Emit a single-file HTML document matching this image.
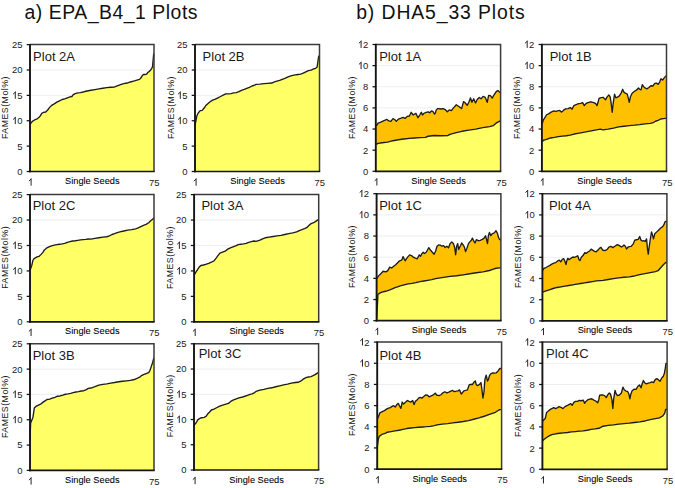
<!DOCTYPE html>
<html><head><meta charset="utf-8"><style>
html,body{margin:0;padding:0;background:#fff;}
body{width:675px;height:488px;overflow:hidden;}
svg{display:block;}
text{font-family:"Liberation Sans",sans-serif;fill:#1a1a1a;}
.tk{font-size:9.9px;}
.xl{font-size:9.8px;fill:#000;stroke:#000;stroke-width:0.08px;}
.yl{font-size:8.8px;fill:#111;}
.pt{font-size:13px;}
.hd{font-size:19.4px;fill:#111;}
</style></head><body>
<svg width="675" height="488" viewBox="0 0 675 488">
<rect width="675" height="488" fill="#fff"/>
<text x="24.5" y="18.9" class="hd" textLength="173" lengthAdjust="spacing">a) EPA_B4_1 Plots</text>
<text x="356.2" y="18.9" class="hd" textLength="168.5" lengthAdjust="spacing">b) DHA5_33 Plots</text>
<line x1="30.00" y1="146.12" x2="154.00" y2="146.12" stroke="#efefef" stroke-width="1"/>
<line x1="30.00" y1="120.74" x2="154.00" y2="120.74" stroke="#efefef" stroke-width="1"/>
<line x1="30.00" y1="95.36" x2="154.00" y2="95.36" stroke="#efefef" stroke-width="1"/>
<line x1="30.00" y1="69.98" x2="154.00" y2="69.98" stroke="#efefef" stroke-width="1"/>
<polygon points="30.00,124.56 31.28,122.59 33.25,120.75 35.21,119.57 37.18,118.79 39.15,117.21 40.46,115.64 41.77,113.28 43.74,112.23 45.70,111.97 47.67,110.00 49.64,107.38 51.61,105.41 54.23,103.84 56.85,102.13 59.48,100.82 62.10,99.51 64.72,98.85 67.34,97.80 69.97,96.89 71.93,96.49 73.25,94.66 75.21,93.61 77.84,92.95 80.46,92.56 83.08,92.03 85.70,91.25 88.33,90.72 91.00,90.25 94.93,89.59 98.87,88.93 102.80,88.28 106.74,87.62 110.67,87.23 114.61,86.97 117.23,85.92 120.51,84.61 123.79,83.69 127.07,83.03 130.34,81.98 133.62,81.07 136.90,80.15 139.52,79.36 140.84,78.05 142.15,75.82 143.46,74.51 145.03,74.51 146.74,74.11 147.66,72.54 148.70,71.89 150.28,70.57 151.59,68.61 152.51,66.77 153.69,53.92 154.00,53.92 154.00,171.50 30.00,171.50" fill="#FFFF66"/>
<polyline points="30.00,124.56 31.28,122.59 33.25,120.75 35.21,119.57 37.18,118.79 39.15,117.21 40.46,115.64 41.77,113.28 43.74,112.23 45.70,111.97 47.67,110.00 49.64,107.38 51.61,105.41 54.23,103.84 56.85,102.13 59.48,100.82 62.10,99.51 64.72,98.85 67.34,97.80 69.97,96.89 71.93,96.49 73.25,94.66 75.21,93.61 77.84,92.95 80.46,92.56 83.08,92.03 85.70,91.25 88.33,90.72 91.00,90.25 94.93,89.59 98.87,88.93 102.80,88.28 106.74,87.62 110.67,87.23 114.61,86.97 117.23,85.92 120.51,84.61 123.79,83.69 127.07,83.03 130.34,81.98 133.62,81.07 136.90,80.15 139.52,79.36 140.84,78.05 142.15,75.82 143.46,74.51 145.03,74.51 146.74,74.11 147.66,72.54 148.70,71.89 150.28,70.57 151.59,68.61 152.51,66.77 153.69,53.92 154.00,53.92" fill="none" stroke="#1c1c1c" stroke-width="1.35" stroke-linejoin="round"/>
<polyline points="30.00,44.60 154.00,44.60 154.00,171.50" fill="none" stroke="#3a3a3a" stroke-width="1.5"/>
<line x1="30.00" y1="43.90" x2="30.00" y2="172.30" stroke="#151515" stroke-width="1.9"/>
<line x1="29.10" y1="171.50" x2="154.70" y2="171.50" stroke="#151515" stroke-width="1.7"/>
<line x1="26.70" y1="171.50" x2="30.00" y2="171.50" stroke="#111" stroke-width="1.25"/>
<text transform="translate(17.14,174.90) scale(0.955,1)" class="tk">0</text>
<line x1="26.70" y1="146.12" x2="30.00" y2="146.12" stroke="#111" stroke-width="1.25"/>
<text transform="translate(17.14,149.52) scale(0.955,1)" class="tk">5</text>
<line x1="26.70" y1="120.74" x2="30.00" y2="120.74" stroke="#111" stroke-width="1.25"/>
<path d="M15.29,117.05 L15.29,124.14 M15.59,117.25 L13.09,119.55" stroke="#262626" stroke-width="1.0" fill="none"/>
<text transform="translate(17.14,124.14) scale(0.955,1)" class="tk">0</text>
<line x1="26.70" y1="95.36" x2="30.00" y2="95.36" stroke="#111" stroke-width="1.25"/>
<path d="M15.29,91.67 L15.29,98.76 M15.59,91.87 L13.09,94.17" stroke="#262626" stroke-width="1.0" fill="none"/>
<text transform="translate(17.14,98.76) scale(0.955,1)" class="tk">5</text>
<line x1="26.70" y1="69.98" x2="30.00" y2="69.98" stroke="#111" stroke-width="1.25"/>
<text transform="translate(11.89,73.38) scale(0.955,1)" class="tk">2</text>
<text transform="translate(17.14,73.38) scale(0.955,1)" class="tk">0</text>
<line x1="26.70" y1="44.60" x2="30.00" y2="44.60" stroke="#111" stroke-width="1.25"/>
<text transform="translate(11.89,48.00) scale(0.955,1)" class="tk">2</text>
<text transform="translate(17.14,48.00) scale(0.955,1)" class="tk">5</text>
<path d="M31.08,178.61 L31.08,185.70 M31.38,178.81 L28.88,181.11" stroke="#262626" stroke-width="1.0" fill="none"/>
<text transform="translate(149.04,185.70) scale(0.955,1)" class="tk">7</text>
<text transform="translate(154.30,185.70) scale(0.955,1)" class="tk">5</text>
<text x="92.30" y="184.00" class="xl" text-anchor="middle" textLength="54.5" lengthAdjust="spacingAndGlyphs">Single Seeds</text>
<text transform="translate(8.20,139.00) rotate(-90)" class="yl" textLength="62.5" lengthAdjust="spacing">FAMES(Mol%)</text>
<text x="33.10" y="60.80" class="pt">Plot 2A</text>
<line x1="195.00" y1="146.12" x2="319.50" y2="146.12" stroke="#efefef" stroke-width="1"/>
<line x1="195.00" y1="120.74" x2="319.50" y2="120.74" stroke="#efefef" stroke-width="1"/>
<line x1="195.00" y1="95.36" x2="319.50" y2="95.36" stroke="#efefef" stroke-width="1"/>
<line x1="195.00" y1="69.98" x2="319.50" y2="69.98" stroke="#efefef" stroke-width="1"/>
<polygon points="195.00,125.74 196.80,116.03 198.25,113.02 200.21,110.66 202.18,110.39 204.15,108.03 206.11,105.15 208.08,103.44 210.05,101.74 212.67,100.16 215.30,99.11 217.92,97.80 220.54,96.49 223.16,95.18 225.79,93.87 228.41,93.87 231.03,93.61 233.66,92.95 236.28,92.56 238.90,91.64 241.52,90.33 244.15,89.41 246.77,88.36 249.39,87.31 252.02,86.00 254.64,85.08 256.00,84.34 259.93,84.08 263.87,83.69 267.80,83.30 271.74,83.03 274.36,81.98 276.98,81.07 279.61,80.41 282.23,79.36 284.85,78.44 287.48,77.13 290.10,76.21 292.72,75.43 295.34,74.90 297.97,74.51 300.59,74.11 303.21,73.20 305.84,71.89 308.46,70.57 311.08,70.18 313.70,68.87 315.67,68.34 317.11,67.03 318.69,56.15 319.50,56.15 319.50,171.50 195.00,171.50" fill="#FFFF66"/>
<polyline points="195.00,125.74 196.80,116.03 198.25,113.02 200.21,110.66 202.18,110.39 204.15,108.03 206.11,105.15 208.08,103.44 210.05,101.74 212.67,100.16 215.30,99.11 217.92,97.80 220.54,96.49 223.16,95.18 225.79,93.87 228.41,93.87 231.03,93.61 233.66,92.95 236.28,92.56 238.90,91.64 241.52,90.33 244.15,89.41 246.77,88.36 249.39,87.31 252.02,86.00 254.64,85.08 256.00,84.34 259.93,84.08 263.87,83.69 267.80,83.30 271.74,83.03 274.36,81.98 276.98,81.07 279.61,80.41 282.23,79.36 284.85,78.44 287.48,77.13 290.10,76.21 292.72,75.43 295.34,74.90 297.97,74.51 300.59,74.11 303.21,73.20 305.84,71.89 308.46,70.57 311.08,70.18 313.70,68.87 315.67,68.34 317.11,67.03 318.69,56.15 319.50,56.15" fill="none" stroke="#1c1c1c" stroke-width="1.35" stroke-linejoin="round"/>
<polyline points="195.00,44.60 319.50,44.60 319.50,171.50" fill="none" stroke="#3a3a3a" stroke-width="1.5"/>
<line x1="195.00" y1="43.90" x2="195.00" y2="172.30" stroke="#151515" stroke-width="1.9"/>
<line x1="194.10" y1="171.50" x2="320.20" y2="171.50" stroke="#151515" stroke-width="1.7"/>
<line x1="191.70" y1="171.50" x2="195.00" y2="171.50" stroke="#111" stroke-width="1.25"/>
<text transform="translate(182.14,174.90) scale(0.955,1)" class="tk">0</text>
<line x1="191.70" y1="146.12" x2="195.00" y2="146.12" stroke="#111" stroke-width="1.25"/>
<text transform="translate(182.14,149.52) scale(0.955,1)" class="tk">5</text>
<line x1="191.70" y1="120.74" x2="195.00" y2="120.74" stroke="#111" stroke-width="1.25"/>
<path d="M180.29,117.05 L180.29,124.14 M180.59,117.25 L178.09,119.55" stroke="#262626" stroke-width="1.0" fill="none"/>
<text transform="translate(182.14,124.14) scale(0.955,1)" class="tk">0</text>
<line x1="191.70" y1="95.36" x2="195.00" y2="95.36" stroke="#111" stroke-width="1.25"/>
<path d="M180.29,91.67 L180.29,98.76 M180.59,91.87 L178.09,94.17" stroke="#262626" stroke-width="1.0" fill="none"/>
<text transform="translate(182.14,98.76) scale(0.955,1)" class="tk">5</text>
<line x1="191.70" y1="69.98" x2="195.00" y2="69.98" stroke="#111" stroke-width="1.25"/>
<text transform="translate(176.89,73.38) scale(0.955,1)" class="tk">2</text>
<text transform="translate(182.14,73.38) scale(0.955,1)" class="tk">0</text>
<line x1="191.70" y1="44.60" x2="195.00" y2="44.60" stroke="#111" stroke-width="1.25"/>
<text transform="translate(176.89,48.00) scale(0.955,1)" class="tk">2</text>
<text transform="translate(182.14,48.00) scale(0.955,1)" class="tk">5</text>
<path d="M196.08,178.61 L196.08,185.70 M196.38,178.81 L193.88,181.11" stroke="#262626" stroke-width="1.0" fill="none"/>
<text transform="translate(314.54,185.70) scale(0.955,1)" class="tk">7</text>
<text transform="translate(319.80,185.70) scale(0.955,1)" class="tk">5</text>
<text x="257.55" y="184.00" class="xl" text-anchor="middle" textLength="54.5" lengthAdjust="spacingAndGlyphs">Single Seeds</text>
<text transform="translate(173.50,139.00) rotate(-90)" class="yl" textLength="62.5" lengthAdjust="spacing">FAMES(Mol%)</text>
<text x="202.60" y="61.00" class="pt">Plot 2B</text>
<line x1="30.00" y1="296.36" x2="154.00" y2="296.36" stroke="#efefef" stroke-width="1"/>
<line x1="30.00" y1="270.92" x2="154.00" y2="270.92" stroke="#efefef" stroke-width="1"/>
<line x1="30.00" y1="245.48" x2="154.00" y2="245.48" stroke="#efefef" stroke-width="1"/>
<line x1="30.00" y1="220.04" x2="154.00" y2="220.04" stroke="#efefef" stroke-width="1"/>
<polygon points="30.00,270.49 31.80,265.38 32.85,260.52 34.03,258.56 37.05,256.85 38.89,256.46 40.85,254.62 43.08,252.13 44.39,249.90 46.36,248.20 48.98,246.89 51.61,245.97 54.23,245.18 56.85,244.66 59.48,244.26 62.10,243.87 64.72,243.34 67.34,242.30 69.97,241.64 72.59,240.98 75.21,240.72 77.84,240.33 80.46,239.93 83.08,239.67 85.70,239.41 88.33,239.02 91.00,239.10 94.93,238.44 98.87,237.79 102.80,237.13 106.74,236.74 109.36,235.82 111.98,234.51 114.61,233.59 117.23,232.54 119.85,231.89 123.79,230.97 127.72,230.18 131.66,229.66 135.59,228.87 138.21,227.95 140.84,226.64 143.46,225.33 146.08,224.41 148.70,222.70 150.67,220.74 152.64,219.16 153.69,218.11 154.00,218.11 154.00,321.80 30.00,321.80" fill="#FFFF66"/>
<polyline points="30.00,270.49 31.80,265.38 32.85,260.52 34.03,258.56 37.05,256.85 38.89,256.46 40.85,254.62 43.08,252.13 44.39,249.90 46.36,248.20 48.98,246.89 51.61,245.97 54.23,245.18 56.85,244.66 59.48,244.26 62.10,243.87 64.72,243.34 67.34,242.30 69.97,241.64 72.59,240.98 75.21,240.72 77.84,240.33 80.46,239.93 83.08,239.67 85.70,239.41 88.33,239.02 91.00,239.10 94.93,238.44 98.87,237.79 102.80,237.13 106.74,236.74 109.36,235.82 111.98,234.51 114.61,233.59 117.23,232.54 119.85,231.89 123.79,230.97 127.72,230.18 131.66,229.66 135.59,228.87 138.21,227.95 140.84,226.64 143.46,225.33 146.08,224.41 148.70,222.70 150.67,220.74 152.64,219.16 153.69,218.11 154.00,218.11" fill="none" stroke="#1c1c1c" stroke-width="1.35" stroke-linejoin="round"/>
<polyline points="30.00,194.60 154.00,194.60 154.00,321.80" fill="none" stroke="#3a3a3a" stroke-width="1.5"/>
<line x1="30.00" y1="193.90" x2="30.00" y2="322.60" stroke="#151515" stroke-width="1.9"/>
<line x1="29.10" y1="321.80" x2="154.70" y2="321.80" stroke="#151515" stroke-width="1.7"/>
<line x1="26.70" y1="321.80" x2="30.00" y2="321.80" stroke="#111" stroke-width="1.25"/>
<text transform="translate(17.14,325.20) scale(0.955,1)" class="tk">0</text>
<line x1="26.70" y1="296.36" x2="30.00" y2="296.36" stroke="#111" stroke-width="1.25"/>
<text transform="translate(17.14,299.76) scale(0.955,1)" class="tk">5</text>
<line x1="26.70" y1="270.92" x2="30.00" y2="270.92" stroke="#111" stroke-width="1.25"/>
<path d="M15.29,267.23 L15.29,274.32 M15.59,267.43 L13.09,269.73" stroke="#262626" stroke-width="1.0" fill="none"/>
<text transform="translate(17.14,274.32) scale(0.955,1)" class="tk">0</text>
<line x1="26.70" y1="245.48" x2="30.00" y2="245.48" stroke="#111" stroke-width="1.25"/>
<path d="M15.29,241.79 L15.29,248.88 M15.59,241.99 L13.09,244.29" stroke="#262626" stroke-width="1.0" fill="none"/>
<text transform="translate(17.14,248.88) scale(0.955,1)" class="tk">5</text>
<line x1="26.70" y1="220.04" x2="30.00" y2="220.04" stroke="#111" stroke-width="1.25"/>
<text transform="translate(11.89,223.44) scale(0.955,1)" class="tk">2</text>
<text transform="translate(17.14,223.44) scale(0.955,1)" class="tk">0</text>
<line x1="26.70" y1="194.60" x2="30.00" y2="194.60" stroke="#111" stroke-width="1.25"/>
<text transform="translate(11.89,198.00) scale(0.955,1)" class="tk">2</text>
<text transform="translate(17.14,198.00) scale(0.955,1)" class="tk">5</text>
<path d="M31.08,328.91 L31.08,336.00 M31.38,329.11 L28.88,331.41" stroke="#262626" stroke-width="1.0" fill="none"/>
<text transform="translate(149.04,336.00) scale(0.955,1)" class="tk">7</text>
<text transform="translate(154.30,336.00) scale(0.955,1)" class="tk">5</text>
<text x="92.30" y="334.30" class="xl" text-anchor="middle" textLength="54.5" lengthAdjust="spacingAndGlyphs">Single Seeds</text>
<text transform="translate(8.20,288.80) rotate(-90)" class="yl" textLength="62.5" lengthAdjust="spacing">FAMES(Mol%)</text>
<text x="32.70" y="210.10" class="pt">Plot 2C</text>
<line x1="194.10" y1="296.36" x2="318.70" y2="296.36" stroke="#efefef" stroke-width="1"/>
<line x1="194.10" y1="270.92" x2="318.70" y2="270.92" stroke="#efefef" stroke-width="1"/>
<line x1="194.10" y1="245.48" x2="318.70" y2="245.48" stroke="#efefef" stroke-width="1"/>
<line x1="194.10" y1="220.04" x2="318.70" y2="220.04" stroke="#efefef" stroke-width="1"/>
<polygon points="194.10,275.21 195.89,272.20 199.03,267.34 200.87,265.51 203.49,264.98 206.38,264.20 208.74,263.28 211.36,262.23 213.98,260.92 215.95,258.30 217.92,255.67 219.89,253.05 222.51,252.13 225.13,251.21 227.75,249.11 230.38,247.80 233.00,246.89 235.62,245.97 238.25,244.66 240.87,244.26 243.49,243.87 246.11,243.34 248.74,242.30 251.36,241.64 253.98,240.98 256.00,241.46 259.93,240.15 262.56,238.84 265.18,237.79 269.11,237.13 273.05,236.48 276.98,235.82 280.92,235.43 284.85,234.51 288.79,233.59 292.72,232.80 296.66,231.89 299.28,230.57 301.90,229.66 304.52,228.61 307.15,227.30 309.11,225.33 311.08,223.62 313.70,222.70 315.67,221.39 318.69,219.43 318.70,219.43 318.70,321.80 194.10,321.80" fill="#FFFF66"/>
<polyline points="194.10,275.21 195.89,272.20 199.03,267.34 200.87,265.51 203.49,264.98 206.38,264.20 208.74,263.28 211.36,262.23 213.98,260.92 215.95,258.30 217.92,255.67 219.89,253.05 222.51,252.13 225.13,251.21 227.75,249.11 230.38,247.80 233.00,246.89 235.62,245.97 238.25,244.66 240.87,244.26 243.49,243.87 246.11,243.34 248.74,242.30 251.36,241.64 253.98,240.98 256.00,241.46 259.93,240.15 262.56,238.84 265.18,237.79 269.11,237.13 273.05,236.48 276.98,235.82 280.92,235.43 284.85,234.51 288.79,233.59 292.72,232.80 296.66,231.89 299.28,230.57 301.90,229.66 304.52,228.61 307.15,227.30 309.11,225.33 311.08,223.62 313.70,222.70 315.67,221.39 318.69,219.43 318.70,219.43" fill="none" stroke="#1c1c1c" stroke-width="1.35" stroke-linejoin="round"/>
<polyline points="194.10,194.60 318.70,194.60 318.70,321.80" fill="none" stroke="#3a3a3a" stroke-width="1.5"/>
<line x1="194.10" y1="193.90" x2="194.10" y2="322.60" stroke="#151515" stroke-width="1.9"/>
<line x1="193.20" y1="321.80" x2="319.40" y2="321.80" stroke="#151515" stroke-width="1.7"/>
<line x1="190.80" y1="321.80" x2="194.10" y2="321.80" stroke="#111" stroke-width="1.25"/>
<text transform="translate(181.24,325.20) scale(0.955,1)" class="tk">0</text>
<line x1="190.80" y1="296.36" x2="194.10" y2="296.36" stroke="#111" stroke-width="1.25"/>
<text transform="translate(181.24,299.76) scale(0.955,1)" class="tk">5</text>
<line x1="190.80" y1="270.92" x2="194.10" y2="270.92" stroke="#111" stroke-width="1.25"/>
<path d="M179.39,267.23 L179.39,274.32 M179.69,267.43 L177.19,269.73" stroke="#262626" stroke-width="1.0" fill="none"/>
<text transform="translate(181.24,274.32) scale(0.955,1)" class="tk">0</text>
<line x1="190.80" y1="245.48" x2="194.10" y2="245.48" stroke="#111" stroke-width="1.25"/>
<path d="M179.39,241.79 L179.39,248.88 M179.69,241.99 L177.19,244.29" stroke="#262626" stroke-width="1.0" fill="none"/>
<text transform="translate(181.24,248.88) scale(0.955,1)" class="tk">5</text>
<line x1="190.80" y1="220.04" x2="194.10" y2="220.04" stroke="#111" stroke-width="1.25"/>
<text transform="translate(175.99,223.44) scale(0.955,1)" class="tk">2</text>
<text transform="translate(181.24,223.44) scale(0.955,1)" class="tk">0</text>
<line x1="190.80" y1="194.60" x2="194.10" y2="194.60" stroke="#111" stroke-width="1.25"/>
<text transform="translate(175.99,198.00) scale(0.955,1)" class="tk">2</text>
<text transform="translate(181.24,198.00) scale(0.955,1)" class="tk">5</text>
<path d="M195.18,328.91 L195.18,336.00 M195.48,329.11 L192.98,331.41" stroke="#262626" stroke-width="1.0" fill="none"/>
<text transform="translate(313.74,336.00) scale(0.955,1)" class="tk">7</text>
<text transform="translate(319.00,336.00) scale(0.955,1)" class="tk">5</text>
<text x="256.70" y="334.30" class="xl" text-anchor="middle" textLength="54.5" lengthAdjust="spacingAndGlyphs">Single Seeds</text>
<text transform="translate(172.90,289.00) rotate(-90)" class="yl" textLength="62.5" lengthAdjust="spacing">FAMES(Mol%)</text>
<text x="201.40" y="210.10" class="pt">Plot 3A</text>
<line x1="30.00" y1="445.08" x2="154.00" y2="445.08" stroke="#efefef" stroke-width="1"/>
<line x1="30.00" y1="419.76" x2="154.00" y2="419.76" stroke="#efefef" stroke-width="1"/>
<line x1="30.00" y1="394.44" x2="154.00" y2="394.44" stroke="#efefef" stroke-width="1"/>
<line x1="30.00" y1="369.12" x2="154.00" y2="369.12" stroke="#efefef" stroke-width="1"/>
<polygon points="30.00,439.51 30.62,423.11 31.67,420.49 32.98,417.21 34.30,408.03 35.87,406.46 38.49,405.15 41.11,403.84 43.08,402.13 45.05,400.82 47.02,399.51 49.64,399.11 52.26,398.20 54.89,397.28 57.51,396.23 60.13,395.97 62.75,395.18 65.38,394.26 68.00,393.87 70.62,393.34 73.25,392.56 75.87,392.03 78.49,391.64 81.11,390.98 83.74,390.72 86.36,389.67 88.33,388.36 91.00,388.03 94.93,386.72 98.87,385.15 102.80,384.36 106.74,383.84 110.67,383.05 114.61,382.52 118.54,381.74 122.48,381.21 126.41,380.82 130.34,380.43 134.28,379.51 137.56,378.20 140.18,376.89 141.49,375.57 143.46,374.66 146.08,373.61 148.70,372.56 150.02,370.33 151.33,366.39 152.64,362.46 153.69,358.52 154.00,358.52 154.00,470.40 30.00,470.40" fill="#FFFF66"/>
<polyline points="30.00,439.51 30.62,423.11 31.67,420.49 32.98,417.21 34.30,408.03 35.87,406.46 38.49,405.15 41.11,403.84 43.08,402.13 45.05,400.82 47.02,399.51 49.64,399.11 52.26,398.20 54.89,397.28 57.51,396.23 60.13,395.97 62.75,395.18 65.38,394.26 68.00,393.87 70.62,393.34 73.25,392.56 75.87,392.03 78.49,391.64 81.11,390.98 83.74,390.72 86.36,389.67 88.33,388.36 91.00,388.03 94.93,386.72 98.87,385.15 102.80,384.36 106.74,383.84 110.67,383.05 114.61,382.52 118.54,381.74 122.48,381.21 126.41,380.82 130.34,380.43 134.28,379.51 137.56,378.20 140.18,376.89 141.49,375.57 143.46,374.66 146.08,373.61 148.70,372.56 150.02,370.33 151.33,366.39 152.64,362.46 153.69,358.52 154.00,358.52" fill="none" stroke="#1c1c1c" stroke-width="1.35" stroke-linejoin="round"/>
<polyline points="30.00,343.80 154.00,343.80 154.00,470.40" fill="none" stroke="#3a3a3a" stroke-width="1.5"/>
<line x1="30.00" y1="343.10" x2="30.00" y2="471.20" stroke="#151515" stroke-width="1.9"/>
<line x1="29.10" y1="470.40" x2="154.70" y2="470.40" stroke="#151515" stroke-width="1.7"/>
<line x1="26.70" y1="470.40" x2="30.00" y2="470.40" stroke="#111" stroke-width="1.25"/>
<text transform="translate(17.14,473.80) scale(0.955,1)" class="tk">0</text>
<line x1="26.70" y1="445.08" x2="30.00" y2="445.08" stroke="#111" stroke-width="1.25"/>
<text transform="translate(17.14,448.48) scale(0.955,1)" class="tk">5</text>
<line x1="26.70" y1="419.76" x2="30.00" y2="419.76" stroke="#111" stroke-width="1.25"/>
<path d="M15.29,416.07 L15.29,423.16 M15.59,416.27 L13.09,418.57" stroke="#262626" stroke-width="1.0" fill="none"/>
<text transform="translate(17.14,423.16) scale(0.955,1)" class="tk">0</text>
<line x1="26.70" y1="394.44" x2="30.00" y2="394.44" stroke="#111" stroke-width="1.25"/>
<path d="M15.29,390.75 L15.29,397.84 M15.59,390.95 L13.09,393.25" stroke="#262626" stroke-width="1.0" fill="none"/>
<text transform="translate(17.14,397.84) scale(0.955,1)" class="tk">5</text>
<line x1="26.70" y1="369.12" x2="30.00" y2="369.12" stroke="#111" stroke-width="1.25"/>
<text transform="translate(11.89,372.52) scale(0.955,1)" class="tk">2</text>
<text transform="translate(17.14,372.52) scale(0.955,1)" class="tk">0</text>
<line x1="26.70" y1="343.80" x2="30.00" y2="343.80" stroke="#111" stroke-width="1.25"/>
<text transform="translate(11.89,347.20) scale(0.955,1)" class="tk">2</text>
<text transform="translate(17.14,347.20) scale(0.955,1)" class="tk">5</text>
<path d="M31.08,477.51 L31.08,484.60 M31.38,477.71 L28.88,480.01" stroke="#262626" stroke-width="1.0" fill="none"/>
<text transform="translate(149.04,484.60) scale(0.955,1)" class="tk">7</text>
<text transform="translate(154.30,484.60) scale(0.955,1)" class="tk">5</text>
<text x="92.30" y="482.90" class="xl" text-anchor="middle" textLength="54.5" lengthAdjust="spacingAndGlyphs">Single Seeds</text>
<text transform="translate(8.20,438.00) rotate(-90)" class="yl" textLength="62.5" lengthAdjust="spacing">FAMES(Mol%)</text>
<text x="32.70" y="360.20" class="pt">Plot 3B</text>
<line x1="194.00" y1="444.76" x2="318.60" y2="444.76" stroke="#efefef" stroke-width="1"/>
<line x1="194.00" y1="419.52" x2="318.60" y2="419.52" stroke="#efefef" stroke-width="1"/>
<line x1="194.00" y1="394.28" x2="318.60" y2="394.28" stroke="#efefef" stroke-width="1"/>
<line x1="194.00" y1="369.04" x2="318.60" y2="369.04" stroke="#efefef" stroke-width="1"/>
<polygon points="194.00,425.21 194.05,425.21 196.15,422.72 197.98,419.57 200.48,418.00 204.15,417.34 205.98,416.43 207.43,414.33 209.39,412.23 211.36,410.00 213.98,409.08 216.61,407.77 219.23,406.46 221.85,405.41 225.13,404.36 228.41,403.44 231.03,401.21 233.66,399.90 236.28,398.85 238.90,397.80 241.52,397.28 244.15,396.49 246.77,395.57 249.39,394.66 252.02,393.87 254.64,392.56 256.00,391.46 259.93,390.15 263.87,389.36 267.80,388.44 271.74,387.79 275.67,386.74 279.61,385.82 283.54,384.90 287.48,384.11 291.41,383.20 295.34,382.54 297.97,382.28 300.59,381.23 302.56,379.66 304.52,378.34 306.49,377.30 308.46,377.03 311.08,376.64 313.05,375.72 315.02,374.67 316.98,373.36 318.60,372.44 318.60,470.00 194.00,470.00" fill="#FFFF66"/>
<polyline points="194.00,425.21 194.05,425.21 196.15,422.72 197.98,419.57 200.48,418.00 204.15,417.34 205.98,416.43 207.43,414.33 209.39,412.23 211.36,410.00 213.98,409.08 216.61,407.77 219.23,406.46 221.85,405.41 225.13,404.36 228.41,403.44 231.03,401.21 233.66,399.90 236.28,398.85 238.90,397.80 241.52,397.28 244.15,396.49 246.77,395.57 249.39,394.66 252.02,393.87 254.64,392.56 256.00,391.46 259.93,390.15 263.87,389.36 267.80,388.44 271.74,387.79 275.67,386.74 279.61,385.82 283.54,384.90 287.48,384.11 291.41,383.20 295.34,382.54 297.97,382.28 300.59,381.23 302.56,379.66 304.52,378.34 306.49,377.30 308.46,377.03 311.08,376.64 313.05,375.72 315.02,374.67 316.98,373.36 318.60,372.44" fill="none" stroke="#1c1c1c" stroke-width="1.35" stroke-linejoin="round"/>
<polyline points="194.00,343.80 318.60,343.80 318.60,470.00" fill="none" stroke="#3a3a3a" stroke-width="1.5"/>
<line x1="194.00" y1="343.10" x2="194.00" y2="470.80" stroke="#151515" stroke-width="1.9"/>
<line x1="193.10" y1="470.00" x2="319.30" y2="470.00" stroke="#151515" stroke-width="1.7"/>
<line x1="190.70" y1="470.00" x2="194.00" y2="470.00" stroke="#111" stroke-width="1.25"/>
<text transform="translate(181.14,473.40) scale(0.955,1)" class="tk">0</text>
<line x1="190.70" y1="444.76" x2="194.00" y2="444.76" stroke="#111" stroke-width="1.25"/>
<text transform="translate(181.14,448.16) scale(0.955,1)" class="tk">5</text>
<line x1="190.70" y1="419.52" x2="194.00" y2="419.52" stroke="#111" stroke-width="1.25"/>
<path d="M179.29,415.83 L179.29,422.92 M179.59,416.03 L177.09,418.33" stroke="#262626" stroke-width="1.0" fill="none"/>
<text transform="translate(181.14,422.92) scale(0.955,1)" class="tk">0</text>
<line x1="190.70" y1="394.28" x2="194.00" y2="394.28" stroke="#111" stroke-width="1.25"/>
<path d="M179.29,390.59 L179.29,397.68 M179.59,390.79 L177.09,393.09" stroke="#262626" stroke-width="1.0" fill="none"/>
<text transform="translate(181.14,397.68) scale(0.955,1)" class="tk">5</text>
<line x1="190.70" y1="369.04" x2="194.00" y2="369.04" stroke="#111" stroke-width="1.25"/>
<text transform="translate(175.89,372.44) scale(0.955,1)" class="tk">2</text>
<text transform="translate(181.14,372.44) scale(0.955,1)" class="tk">0</text>
<line x1="190.70" y1="343.80" x2="194.00" y2="343.80" stroke="#111" stroke-width="1.25"/>
<text transform="translate(175.89,347.20) scale(0.955,1)" class="tk">2</text>
<text transform="translate(181.14,347.20) scale(0.955,1)" class="tk">5</text>
<path d="M195.08,477.11 L195.08,484.20 M195.38,477.31 L192.88,479.61" stroke="#262626" stroke-width="1.0" fill="none"/>
<text transform="translate(313.64,484.20) scale(0.955,1)" class="tk">7</text>
<text transform="translate(318.90,484.20) scale(0.955,1)" class="tk">5</text>
<text x="256.60" y="482.50" class="xl" text-anchor="middle" textLength="54.5" lengthAdjust="spacingAndGlyphs">Single Seeds</text>
<text transform="translate(172.70,437.20) rotate(-90)" class="yl" textLength="62.5" lengthAdjust="spacing">FAMES(Mol%)</text>
<text x="198.70" y="358.10" class="pt">Plot 3C</text>
<line x1="375.80" y1="150.17" x2="500.60" y2="150.17" stroke="#efefef" stroke-width="1"/>
<line x1="375.80" y1="129.03" x2="500.60" y2="129.03" stroke="#efefef" stroke-width="1"/>
<line x1="375.80" y1="107.90" x2="500.60" y2="107.90" stroke="#efefef" stroke-width="1"/>
<line x1="375.80" y1="86.77" x2="500.60" y2="86.77" stroke="#efefef" stroke-width="1"/>
<line x1="375.80" y1="65.63" x2="500.60" y2="65.63" stroke="#efefef" stroke-width="1"/>
<polygon points="375.80,125.43 376.70,125.43 378.06,123.14 380.76,122.19 383.47,120.84 386.85,119.48 388.88,120.84 390.91,121.38 392.93,118.67 394.96,119.75 396.32,121.38 398.34,119.08 401.05,118.13 403.08,117.32 405.11,118.40 407.14,116.37 409.43,115.97 411.19,112.32 413.22,115.02 414.57,114.07 415.93,113.26 417.95,117.73 419.71,115.02 421.34,112.32 422.42,115.02 424.04,113.26 426.07,112.32 428.10,111.91 429.72,112.72 431.48,110.96 432.83,111.37 434.59,114.07 435.39,113.16 436.21,110.02 436.79,109.54 437.57,108.66 438.88,108.57 440.97,108.98 443.06,108.57 445.15,109.54 447.24,111.77 449.33,109.96 451.42,110.66 453.51,107.87 456.30,104.80 458.39,106.20 459.78,107.17 461.59,108.57 463.54,101.60 465.35,102.99 467.16,105.36 468.84,102.30 470.51,97.84 471.90,102.30 473.71,98.81 475.52,102.99 477.20,99.51 479.29,97.42 481.10,98.81 483.05,96.44 485.28,97.42 487.23,102.30 488.62,95.33 490.43,95.61 492.25,98.11 493.92,95.05 496.01,91.84 497.82,90.45 499.77,92.26 500.60,92.26 500.60,171.30 375.80,171.30" fill="#FFC000"/>
<polygon points="375.80,144.10 376.70,144.10 378.06,143.42 382.11,142.75 387.52,142.07 392.93,140.72 398.34,139.77 403.75,138.96 409.16,138.42 414.57,138.01 419.98,137.61 425.39,137.34 428.10,136.25 432.16,135.71 434.00,135.46 440.97,135.74 447.93,135.46 450.72,134.07 456.30,132.67 461.87,131.28 468.84,130.16 475.80,129.05 482.77,127.66 489.74,126.68 493.22,125.70 496.01,123.20 499.77,121.11 500.60,121.11 500.60,171.30 375.80,171.30" fill="#FFFF66"/>
<polyline points="375.80,125.43 376.70,125.43 378.06,123.14 380.76,122.19 383.47,120.84 386.85,119.48 388.88,120.84 390.91,121.38 392.93,118.67 394.96,119.75 396.32,121.38 398.34,119.08 401.05,118.13 403.08,117.32 405.11,118.40 407.14,116.37 409.43,115.97 411.19,112.32 413.22,115.02 414.57,114.07 415.93,113.26 417.95,117.73 419.71,115.02 421.34,112.32 422.42,115.02 424.04,113.26 426.07,112.32 428.10,111.91 429.72,112.72 431.48,110.96 432.83,111.37 434.59,114.07 435.39,113.16 436.21,110.02 436.79,109.54 437.57,108.66 438.88,108.57 440.97,108.98 443.06,108.57 445.15,109.54 447.24,111.77 449.33,109.96 451.42,110.66 453.51,107.87 456.30,104.80 458.39,106.20 459.78,107.17 461.59,108.57 463.54,101.60 465.35,102.99 467.16,105.36 468.84,102.30 470.51,97.84 471.90,102.30 473.71,98.81 475.52,102.99 477.20,99.51 479.29,97.42 481.10,98.81 483.05,96.44 485.28,97.42 487.23,102.30 488.62,95.33 490.43,95.61 492.25,98.11 493.92,95.05 496.01,91.84 497.82,90.45 499.77,92.26 500.60,92.26" fill="none" stroke="#1c1c1c" stroke-width="1.35" stroke-linejoin="round"/>
<polyline points="375.80,144.10 376.70,144.10 378.06,143.42 382.11,142.75 387.52,142.07 392.93,140.72 398.34,139.77 403.75,138.96 409.16,138.42 414.57,138.01 419.98,137.61 425.39,137.34 428.10,136.25 432.16,135.71 434.00,135.46 440.97,135.74 447.93,135.46 450.72,134.07 456.30,132.67 461.87,131.28 468.84,130.16 475.80,129.05 482.77,127.66 489.74,126.68 493.22,125.70 496.01,123.20 499.77,121.11 500.60,121.11" fill="none" stroke="#1c1c1c" stroke-width="1.35" stroke-linejoin="round"/>
<polyline points="375.80,44.50 500.60,44.50 500.60,171.30" fill="none" stroke="#3a3a3a" stroke-width="1.5"/>
<line x1="375.80" y1="43.80" x2="375.80" y2="172.10" stroke="#151515" stroke-width="1.9"/>
<line x1="374.90" y1="171.30" x2="501.30" y2="171.30" stroke="#151515" stroke-width="1.7"/>
<line x1="372.50" y1="171.30" x2="375.80" y2="171.30" stroke="#111" stroke-width="1.25"/>
<text transform="translate(362.94,174.70) scale(0.955,1)" class="tk">0</text>
<line x1="372.50" y1="150.17" x2="375.80" y2="150.17" stroke="#111" stroke-width="1.25"/>
<text transform="translate(362.94,153.57) scale(0.955,1)" class="tk">2</text>
<line x1="372.50" y1="129.03" x2="375.80" y2="129.03" stroke="#111" stroke-width="1.25"/>
<text transform="translate(362.94,132.43) scale(0.955,1)" class="tk">4</text>
<line x1="372.50" y1="107.90" x2="375.80" y2="107.90" stroke="#111" stroke-width="1.25"/>
<text transform="translate(362.94,111.30) scale(0.955,1)" class="tk">6</text>
<line x1="372.50" y1="86.77" x2="375.80" y2="86.77" stroke="#111" stroke-width="1.25"/>
<text transform="translate(362.94,90.17) scale(0.955,1)" class="tk">8</text>
<line x1="372.50" y1="65.63" x2="375.80" y2="65.63" stroke="#111" stroke-width="1.25"/>
<path d="M361.09,61.94 L361.09,69.03 M361.39,62.14 L358.89,64.44" stroke="#262626" stroke-width="1.0" fill="none"/>
<text transform="translate(362.94,69.03) scale(0.955,1)" class="tk">0</text>
<line x1="372.50" y1="44.50" x2="375.80" y2="44.50" stroke="#111" stroke-width="1.25"/>
<path d="M361.09,40.81 L361.09,47.90 M361.39,41.01 L358.89,43.31" stroke="#262626" stroke-width="1.0" fill="none"/>
<text transform="translate(362.94,47.90) scale(0.955,1)" class="tk">2</text>
<path d="M376.88,178.41 L376.88,185.50 M377.18,178.61 L374.68,180.91" stroke="#262626" stroke-width="1.0" fill="none"/>
<text transform="translate(496.14,185.50) scale(0.955,1)" class="tk">7</text>
<text transform="translate(501.40,185.50) scale(0.955,1)" class="tk">5</text>
<text x="438.50" y="183.80" class="xl" text-anchor="middle" textLength="54.5" lengthAdjust="spacingAndGlyphs">Single Seeds</text>
<text transform="translate(354.50,139.00) rotate(-90)" class="yl" textLength="62.5" lengthAdjust="spacing">FAMES(Mol%)</text>
<text x="379.20" y="61.00" class="pt">Plot 1A</text>
<line x1="541.90" y1="150.17" x2="666.50" y2="150.17" stroke="#efefef" stroke-width="1"/>
<line x1="541.90" y1="129.03" x2="666.50" y2="129.03" stroke="#efefef" stroke-width="1"/>
<line x1="541.90" y1="107.90" x2="666.50" y2="107.90" stroke="#efefef" stroke-width="1"/>
<line x1="541.90" y1="86.77" x2="666.50" y2="86.77" stroke="#efefef" stroke-width="1"/>
<line x1="541.90" y1="65.63" x2="666.50" y2="65.63" stroke="#efefef" stroke-width="1"/>
<polygon points="541.90,123.28 542.36,123.28 543.28,120.00 544.59,118.03 546.56,114.75 548.52,113.84 551.15,112.13 553.77,110.82 555.74,111.48 557.70,110.82 559.67,110.43 561.64,112.13 563.61,110.16 565.57,108.85 568.20,108.59 570.16,107.54 572.13,109.11 573.84,105.57 576.07,104.66 578.69,103.61 580.66,103.34 582.62,102.56 584.33,105.57 585.90,103.61 587.87,102.56 589.84,102.03 591.80,102.03 593.77,102.56 595.74,103.61 597.05,105.57 598.36,100.98 599.02,98.36 600.98,97.70 602.69,97.44 603.00,97.13 604.31,98.44 605.62,99.75 606.93,97.13 608.90,94.90 610.21,97.13 611.13,103.03 612.18,112.21 613.23,103.03 614.54,94.11 615.85,97.79 617.43,97.13 619.39,95.82 621.36,92.54 622.67,89.26 623.72,91.89 625.30,93.20 627.26,94.11 628.57,99.10 629.23,102.38 630.54,96.48 632.11,93.20 634.48,91.23 636.44,90.18 638.41,87.95 639.72,89.26 641.03,89.92 642.34,84.67 643.66,86.64 644.97,87.95 646.93,88.87 648.90,87.56 650.87,85.72 652.84,85.98 654.80,83.36 656.51,83.10 658.08,84.41 659.66,82.05 660.97,78.77 662.67,80.08 663.98,78.11 665.69,76.15 666.50,76.15 666.50,171.30 541.90,171.30" fill="#FFC000"/>
<polygon points="541.90,141.38 542.36,141.38 543.93,140.07 546.56,139.28 550.49,137.97 554.43,137.44 558.36,136.66 562.30,136.13 566.23,135.74 570.16,135.08 574.10,134.03 579.34,133.11 584.59,132.20 589.84,131.15 595.08,130.10 600.33,129.18 603.00,129.90 608.25,129.11 613.49,128.20 618.74,126.89 623.98,126.23 629.23,125.57 634.48,125.18 639.72,124.66 644.97,123.87 650.21,123.34 653.49,122.56 655.46,121.25 658.08,120.33 660.70,119.02 663.33,118.62 665.69,118.36 666.50,118.36 666.50,171.30 541.90,171.30" fill="#FFFF66"/>
<polyline points="541.90,123.28 542.36,123.28 543.28,120.00 544.59,118.03 546.56,114.75 548.52,113.84 551.15,112.13 553.77,110.82 555.74,111.48 557.70,110.82 559.67,110.43 561.64,112.13 563.61,110.16 565.57,108.85 568.20,108.59 570.16,107.54 572.13,109.11 573.84,105.57 576.07,104.66 578.69,103.61 580.66,103.34 582.62,102.56 584.33,105.57 585.90,103.61 587.87,102.56 589.84,102.03 591.80,102.03 593.77,102.56 595.74,103.61 597.05,105.57 598.36,100.98 599.02,98.36 600.98,97.70 602.69,97.44 603.00,97.13 604.31,98.44 605.62,99.75 606.93,97.13 608.90,94.90 610.21,97.13 611.13,103.03 612.18,112.21 613.23,103.03 614.54,94.11 615.85,97.79 617.43,97.13 619.39,95.82 621.36,92.54 622.67,89.26 623.72,91.89 625.30,93.20 627.26,94.11 628.57,99.10 629.23,102.38 630.54,96.48 632.11,93.20 634.48,91.23 636.44,90.18 638.41,87.95 639.72,89.26 641.03,89.92 642.34,84.67 643.66,86.64 644.97,87.95 646.93,88.87 648.90,87.56 650.87,85.72 652.84,85.98 654.80,83.36 656.51,83.10 658.08,84.41 659.66,82.05 660.97,78.77 662.67,80.08 663.98,78.11 665.69,76.15 666.50,76.15" fill="none" stroke="#1c1c1c" stroke-width="1.35" stroke-linejoin="round"/>
<polyline points="541.90,141.38 542.36,141.38 543.93,140.07 546.56,139.28 550.49,137.97 554.43,137.44 558.36,136.66 562.30,136.13 566.23,135.74 570.16,135.08 574.10,134.03 579.34,133.11 584.59,132.20 589.84,131.15 595.08,130.10 600.33,129.18 603.00,129.90 608.25,129.11 613.49,128.20 618.74,126.89 623.98,126.23 629.23,125.57 634.48,125.18 639.72,124.66 644.97,123.87 650.21,123.34 653.49,122.56 655.46,121.25 658.08,120.33 660.70,119.02 663.33,118.62 665.69,118.36 666.50,118.36" fill="none" stroke="#1c1c1c" stroke-width="1.35" stroke-linejoin="round"/>
<polyline points="541.90,44.50 666.50,44.50 666.50,171.30" fill="none" stroke="#3a3a3a" stroke-width="1.5"/>
<line x1="541.90" y1="43.80" x2="541.90" y2="172.10" stroke="#151515" stroke-width="1.9"/>
<line x1="541.00" y1="171.30" x2="667.20" y2="171.30" stroke="#151515" stroke-width="1.7"/>
<line x1="538.60" y1="171.30" x2="541.90" y2="171.30" stroke="#111" stroke-width="1.25"/>
<text transform="translate(529.04,174.70) scale(0.955,1)" class="tk">0</text>
<line x1="538.60" y1="150.17" x2="541.90" y2="150.17" stroke="#111" stroke-width="1.25"/>
<text transform="translate(529.04,153.57) scale(0.955,1)" class="tk">2</text>
<line x1="538.60" y1="129.03" x2="541.90" y2="129.03" stroke="#111" stroke-width="1.25"/>
<text transform="translate(529.04,132.43) scale(0.955,1)" class="tk">4</text>
<line x1="538.60" y1="107.90" x2="541.90" y2="107.90" stroke="#111" stroke-width="1.25"/>
<text transform="translate(529.04,111.30) scale(0.955,1)" class="tk">6</text>
<line x1="538.60" y1="86.77" x2="541.90" y2="86.77" stroke="#111" stroke-width="1.25"/>
<text transform="translate(529.04,90.17) scale(0.955,1)" class="tk">8</text>
<line x1="538.60" y1="65.63" x2="541.90" y2="65.63" stroke="#111" stroke-width="1.25"/>
<path d="M527.19,61.94 L527.19,69.03 M527.49,62.14 L524.99,64.44" stroke="#262626" stroke-width="1.0" fill="none"/>
<text transform="translate(529.04,69.03) scale(0.955,1)" class="tk">0</text>
<line x1="538.60" y1="44.50" x2="541.90" y2="44.50" stroke="#111" stroke-width="1.25"/>
<path d="M527.19,40.81 L527.19,47.90 M527.49,41.01 L524.99,43.31" stroke="#262626" stroke-width="1.0" fill="none"/>
<text transform="translate(529.04,47.90) scale(0.955,1)" class="tk">2</text>
<path d="M542.98,178.41 L542.98,185.50 M543.28,178.61 L540.78,180.91" stroke="#262626" stroke-width="1.0" fill="none"/>
<text transform="translate(662.04,185.50) scale(0.955,1)" class="tk">7</text>
<text transform="translate(667.30,185.50) scale(0.955,1)" class="tk">5</text>
<text x="604.50" y="183.80" class="xl" text-anchor="middle" textLength="54.5" lengthAdjust="spacingAndGlyphs">Single Seeds</text>
<text transform="translate(520.30,139.00) rotate(-90)" class="yl" textLength="62.5" lengthAdjust="spacing">FAMES(Mol%)</text>
<text x="549.70" y="61.20" class="pt">Plot 1B</text>
<line x1="376.60" y1="299.53" x2="500.90" y2="299.53" stroke="#efefef" stroke-width="1"/>
<line x1="376.60" y1="278.37" x2="500.90" y2="278.37" stroke="#efefef" stroke-width="1"/>
<line x1="376.60" y1="257.20" x2="500.90" y2="257.20" stroke="#efefef" stroke-width="1"/>
<line x1="376.60" y1="236.03" x2="500.90" y2="236.03" stroke="#efefef" stroke-width="1"/>
<line x1="376.60" y1="214.87" x2="500.90" y2="214.87" stroke="#efefef" stroke-width="1"/>
<polygon points="376.60,278.36 376.89,278.36 378.59,275.87 380.56,273.90 383.18,271.28 385.80,271.93 387.77,270.62 389.74,267.08 391.70,268.00 393.67,266.30 395.64,264.72 397.61,262.75 399.57,260.79 401.54,260.13 402.20,259.21 403.11,256.59 404.16,258.82 405.21,260.79 406.13,259.21 407.84,256.85 409.67,254.89 411.38,255.54 413.34,257.11 415.31,258.16 417.28,258.82 419.25,254.89 420.56,256.20 421.48,254.23 423.18,252.26 424.49,253.57 426.20,252.26 428.03,248.98 428.82,247.67 430.39,250.03 432.36,252.26 434.07,254.23 435.64,250.95 437.00,246.23 438.57,244.92 440.28,245.18 441.98,246.23 443.56,245.57 445.13,247.54 446.84,246.23 448.54,247.80 450.11,243.61 451.69,242.03 453.39,243.61 454.70,247.54 455.62,254.75 456.67,246.23 457.72,243.61 458.64,249.51 459.56,247.54 460.61,245.57 461.66,242.95 462.97,244.66 464.28,246.89 465.59,251.48 466.90,248.20 468.48,243.61 470.05,241.64 471.36,240.33 472.41,238.10 473.72,240.98 475.03,242.95 476.34,239.67 478.31,240.72 480.28,240.33 482.25,239.41 483.95,238.36 485.52,235.74 486.57,239.67 487.49,243.61 488.41,235.48 489.46,232.46 490.77,235.74 492.08,233.77 493.66,233.11 494.70,232.46 496.02,230.75 497.33,233.11 498.64,237.70 499.69,239.67 500.90,239.67 500.90,320.70 376.60,320.70" fill="#FFC000"/>
<polygon points="376.60,320.33 376.62,320.33 377.93,294.36 379.25,293.44 381.87,292.13 384.49,291.48 387.11,290.82 389.74,289.90 392.36,288.85 394.98,287.54 397.61,286.89 400.23,285.97 404.16,284.92 408.10,283.87 412.03,283.34 415.97,282.56 419.90,281.64 423.84,280.98 427.77,280.33 431.70,279.67 435.64,278.62 437.00,278.36 443.56,277.44 450.11,276.39 456.67,275.74 463.23,274.82 469.79,273.77 476.34,272.72 482.90,271.80 489.46,270.49 493.39,269.18 496.02,268.26 499.69,267.87 500.90,267.87 500.90,320.70 376.60,320.70" fill="#FFFF66"/>
<polyline points="376.60,278.36 376.89,278.36 378.59,275.87 380.56,273.90 383.18,271.28 385.80,271.93 387.77,270.62 389.74,267.08 391.70,268.00 393.67,266.30 395.64,264.72 397.61,262.75 399.57,260.79 401.54,260.13 402.20,259.21 403.11,256.59 404.16,258.82 405.21,260.79 406.13,259.21 407.84,256.85 409.67,254.89 411.38,255.54 413.34,257.11 415.31,258.16 417.28,258.82 419.25,254.89 420.56,256.20 421.48,254.23 423.18,252.26 424.49,253.57 426.20,252.26 428.03,248.98 428.82,247.67 430.39,250.03 432.36,252.26 434.07,254.23 435.64,250.95 437.00,246.23 438.57,244.92 440.28,245.18 441.98,246.23 443.56,245.57 445.13,247.54 446.84,246.23 448.54,247.80 450.11,243.61 451.69,242.03 453.39,243.61 454.70,247.54 455.62,254.75 456.67,246.23 457.72,243.61 458.64,249.51 459.56,247.54 460.61,245.57 461.66,242.95 462.97,244.66 464.28,246.89 465.59,251.48 466.90,248.20 468.48,243.61 470.05,241.64 471.36,240.33 472.41,238.10 473.72,240.98 475.03,242.95 476.34,239.67 478.31,240.72 480.28,240.33 482.25,239.41 483.95,238.36 485.52,235.74 486.57,239.67 487.49,243.61 488.41,235.48 489.46,232.46 490.77,235.74 492.08,233.77 493.66,233.11 494.70,232.46 496.02,230.75 497.33,233.11 498.64,237.70 499.69,239.67 500.90,239.67" fill="none" stroke="#1c1c1c" stroke-width="1.35" stroke-linejoin="round"/>
<polyline points="376.60,320.33 376.62,320.33 377.93,294.36 379.25,293.44 381.87,292.13 384.49,291.48 387.11,290.82 389.74,289.90 392.36,288.85 394.98,287.54 397.61,286.89 400.23,285.97 404.16,284.92 408.10,283.87 412.03,283.34 415.97,282.56 419.90,281.64 423.84,280.98 427.77,280.33 431.70,279.67 435.64,278.62 437.00,278.36 443.56,277.44 450.11,276.39 456.67,275.74 463.23,274.82 469.79,273.77 476.34,272.72 482.90,271.80 489.46,270.49 493.39,269.18 496.02,268.26 499.69,267.87 500.90,267.87" fill="none" stroke="#1c1c1c" stroke-width="1.35" stroke-linejoin="round"/>
<polyline points="376.60,193.70 500.90,193.70 500.90,320.70" fill="none" stroke="#3a3a3a" stroke-width="1.5"/>
<line x1="376.60" y1="193.00" x2="376.60" y2="321.50" stroke="#151515" stroke-width="1.9"/>
<line x1="375.70" y1="320.70" x2="501.60" y2="320.70" stroke="#151515" stroke-width="1.7"/>
<line x1="373.30" y1="320.70" x2="376.60" y2="320.70" stroke="#111" stroke-width="1.25"/>
<text transform="translate(363.74,324.10) scale(0.955,1)" class="tk">0</text>
<line x1="373.30" y1="299.53" x2="376.60" y2="299.53" stroke="#111" stroke-width="1.25"/>
<text transform="translate(363.74,302.93) scale(0.955,1)" class="tk">2</text>
<line x1="373.30" y1="278.37" x2="376.60" y2="278.37" stroke="#111" stroke-width="1.25"/>
<text transform="translate(363.74,281.77) scale(0.955,1)" class="tk">4</text>
<line x1="373.30" y1="257.20" x2="376.60" y2="257.20" stroke="#111" stroke-width="1.25"/>
<text transform="translate(363.74,260.60) scale(0.955,1)" class="tk">6</text>
<line x1="373.30" y1="236.03" x2="376.60" y2="236.03" stroke="#111" stroke-width="1.25"/>
<text transform="translate(363.74,239.43) scale(0.955,1)" class="tk">8</text>
<line x1="373.30" y1="214.87" x2="376.60" y2="214.87" stroke="#111" stroke-width="1.25"/>
<path d="M361.89,211.18 L361.89,218.27 M362.19,211.38 L359.69,213.68" stroke="#262626" stroke-width="1.0" fill="none"/>
<text transform="translate(363.74,218.27) scale(0.955,1)" class="tk">0</text>
<line x1="373.30" y1="193.70" x2="376.60" y2="193.70" stroke="#111" stroke-width="1.25"/>
<path d="M361.89,190.01 L361.89,197.10 M362.19,190.21 L359.69,192.51" stroke="#262626" stroke-width="1.0" fill="none"/>
<text transform="translate(363.74,197.10) scale(0.955,1)" class="tk">2</text>
<path d="M377.68,327.81 L377.68,334.90 M377.98,328.01 L375.48,330.31" stroke="#262626" stroke-width="1.0" fill="none"/>
<text transform="translate(496.44,334.90) scale(0.955,1)" class="tk">7</text>
<text transform="translate(501.70,334.90) scale(0.955,1)" class="tk">5</text>
<text x="439.05" y="333.20" class="xl" text-anchor="middle" textLength="54.5" lengthAdjust="spacingAndGlyphs">Single Seeds</text>
<text transform="translate(355.30,288.00) rotate(-90)" class="yl" textLength="62.5" lengthAdjust="spacing">FAMES(Mol%)</text>
<text x="379.20" y="210.20" class="pt">Plot 1C</text>
<line x1="542.40" y1="299.70" x2="666.90" y2="299.70" stroke="#efefef" stroke-width="1"/>
<line x1="542.40" y1="278.50" x2="666.90" y2="278.50" stroke="#efefef" stroke-width="1"/>
<line x1="542.40" y1="257.30" x2="666.90" y2="257.30" stroke="#efefef" stroke-width="1"/>
<line x1="542.40" y1="236.10" x2="666.90" y2="236.10" stroke="#efefef" stroke-width="1"/>
<line x1="542.40" y1="214.90" x2="666.90" y2="214.90" stroke="#efefef" stroke-width="1"/>
<polygon points="542.40,270.41 542.62,270.41 543.93,268.44 545.90,267.52 547.87,266.48 549.84,265.43 551.80,264.11 553.77,263.20 555.74,262.54 557.70,260.97 559.41,260.18 560.72,261.89 562.30,259.26 563.61,258.61 564.92,261.23 565.97,264.51 566.89,260.57 567.80,258.34 569.11,259.66 570.82,258.34 572.79,257.03 574.36,257.30 576.07,256.64 577.77,255.72 579.08,259.92 580.00,260.57 581.31,257.30 583.28,255.33 584.59,252.70 586.16,253.36 587.87,252.05 589.57,251.00 591.15,249.16 592.72,250.08 594.43,251.39 596.13,251.79 597.97,250.08 599.67,248.11 600.98,247.46 602.69,250.08 603.00,250.25 604.97,250.64 606.93,249.59 608.90,247.23 610.87,246.31 612.84,247.62 614.80,246.31 617.43,244.61 619.39,245.66 621.36,246.97 622.67,246.31 623.98,245.00 625.30,246.31 626.61,248.93 627.92,247.23 629.23,246.70 631.20,246.31 633.16,244.08 634.74,240.15 636.44,239.75 638.15,239.36 639.72,236.48 641.03,240.15 642.34,241.07 643.92,240.67 645.23,241.46 646.54,238.84 647.59,249.59 648.25,254.18 649.16,246.97 650.21,239.75 651.52,231.89 652.57,235.16 653.49,238.84 654.80,233.85 656.77,231.89 658.74,229.92 660.70,227.95 662.67,226.64 663.98,224.67 664.90,222.05 665.69,221.39 666.90,221.39 666.90,320.90 542.40,320.90" fill="#FFC000"/>
<polygon points="542.40,292.05 542.62,292.05 545.25,291.13 549.18,289.82 553.11,288.51 557.05,287.46 560.98,286.80 564.92,286.15 568.85,285.49 572.79,284.84 576.72,284.18 580.66,283.52 584.59,282.87 588.52,282.21 592.46,281.56 596.39,280.90 600.33,280.64 603.00,280.43 608.25,279.51 613.49,278.59 618.74,277.80 623.98,277.28 629.23,276.89 634.48,275.97 639.72,274.66 644.97,273.61 650.21,272.56 655.46,271.64 658.08,270.72 660.70,267.70 663.33,264.69 665.69,262.46 666.90,262.46 666.90,320.90 542.40,320.90" fill="#FFFF66"/>
<polyline points="542.40,270.41 542.62,270.41 543.93,268.44 545.90,267.52 547.87,266.48 549.84,265.43 551.80,264.11 553.77,263.20 555.74,262.54 557.70,260.97 559.41,260.18 560.72,261.89 562.30,259.26 563.61,258.61 564.92,261.23 565.97,264.51 566.89,260.57 567.80,258.34 569.11,259.66 570.82,258.34 572.79,257.03 574.36,257.30 576.07,256.64 577.77,255.72 579.08,259.92 580.00,260.57 581.31,257.30 583.28,255.33 584.59,252.70 586.16,253.36 587.87,252.05 589.57,251.00 591.15,249.16 592.72,250.08 594.43,251.39 596.13,251.79 597.97,250.08 599.67,248.11 600.98,247.46 602.69,250.08 603.00,250.25 604.97,250.64 606.93,249.59 608.90,247.23 610.87,246.31 612.84,247.62 614.80,246.31 617.43,244.61 619.39,245.66 621.36,246.97 622.67,246.31 623.98,245.00 625.30,246.31 626.61,248.93 627.92,247.23 629.23,246.70 631.20,246.31 633.16,244.08 634.74,240.15 636.44,239.75 638.15,239.36 639.72,236.48 641.03,240.15 642.34,241.07 643.92,240.67 645.23,241.46 646.54,238.84 647.59,249.59 648.25,254.18 649.16,246.97 650.21,239.75 651.52,231.89 652.57,235.16 653.49,238.84 654.80,233.85 656.77,231.89 658.74,229.92 660.70,227.95 662.67,226.64 663.98,224.67 664.90,222.05 665.69,221.39 666.90,221.39" fill="none" stroke="#1c1c1c" stroke-width="1.35" stroke-linejoin="round"/>
<polyline points="542.40,292.05 542.62,292.05 545.25,291.13 549.18,289.82 553.11,288.51 557.05,287.46 560.98,286.80 564.92,286.15 568.85,285.49 572.79,284.84 576.72,284.18 580.66,283.52 584.59,282.87 588.52,282.21 592.46,281.56 596.39,280.90 600.33,280.64 603.00,280.43 608.25,279.51 613.49,278.59 618.74,277.80 623.98,277.28 629.23,276.89 634.48,275.97 639.72,274.66 644.97,273.61 650.21,272.56 655.46,271.64 658.08,270.72 660.70,267.70 663.33,264.69 665.69,262.46 666.90,262.46" fill="none" stroke="#1c1c1c" stroke-width="1.35" stroke-linejoin="round"/>
<polyline points="542.40,193.70 666.90,193.70 666.90,320.90" fill="none" stroke="#3a3a3a" stroke-width="1.5"/>
<line x1="542.40" y1="193.00" x2="542.40" y2="321.70" stroke="#151515" stroke-width="1.9"/>
<line x1="541.50" y1="320.90" x2="667.60" y2="320.90" stroke="#151515" stroke-width="1.7"/>
<line x1="539.10" y1="320.90" x2="542.40" y2="320.90" stroke="#111" stroke-width="1.25"/>
<text transform="translate(529.54,324.30) scale(0.955,1)" class="tk">0</text>
<line x1="539.10" y1="299.70" x2="542.40" y2="299.70" stroke="#111" stroke-width="1.25"/>
<text transform="translate(529.54,303.10) scale(0.955,1)" class="tk">2</text>
<line x1="539.10" y1="278.50" x2="542.40" y2="278.50" stroke="#111" stroke-width="1.25"/>
<text transform="translate(529.54,281.90) scale(0.955,1)" class="tk">4</text>
<line x1="539.10" y1="257.30" x2="542.40" y2="257.30" stroke="#111" stroke-width="1.25"/>
<text transform="translate(529.54,260.70) scale(0.955,1)" class="tk">6</text>
<line x1="539.10" y1="236.10" x2="542.40" y2="236.10" stroke="#111" stroke-width="1.25"/>
<text transform="translate(529.54,239.50) scale(0.955,1)" class="tk">8</text>
<line x1="539.10" y1="214.90" x2="542.40" y2="214.90" stroke="#111" stroke-width="1.25"/>
<path d="M527.69,211.21 L527.69,218.30 M527.99,211.41 L525.49,213.71" stroke="#262626" stroke-width="1.0" fill="none"/>
<text transform="translate(529.54,218.30) scale(0.955,1)" class="tk">0</text>
<line x1="539.10" y1="193.70" x2="542.40" y2="193.70" stroke="#111" stroke-width="1.25"/>
<path d="M527.69,190.01 L527.69,197.10 M527.99,190.21 L525.49,192.51" stroke="#262626" stroke-width="1.0" fill="none"/>
<text transform="translate(529.54,197.10) scale(0.955,1)" class="tk">2</text>
<path d="M543.48,328.01 L543.48,335.10 M543.78,328.21 L541.28,330.51" stroke="#262626" stroke-width="1.0" fill="none"/>
<text transform="translate(662.44,335.10) scale(0.955,1)" class="tk">7</text>
<text transform="translate(667.70,335.10) scale(0.955,1)" class="tk">5</text>
<text x="604.95" y="333.40" class="xl" text-anchor="middle" textLength="54.5" lengthAdjust="spacingAndGlyphs">Single Seeds</text>
<text transform="translate(521.30,288.00) rotate(-90)" class="yl" textLength="62.5" lengthAdjust="spacing">FAMES(Mol%)</text>
<text x="549.00" y="210.20" class="pt">Plot 4A</text>
<line x1="377.20" y1="447.93" x2="501.60" y2="447.93" stroke="#efefef" stroke-width="1"/>
<line x1="377.20" y1="426.77" x2="501.60" y2="426.77" stroke="#efefef" stroke-width="1"/>
<line x1="377.20" y1="405.60" x2="501.60" y2="405.60" stroke="#efefef" stroke-width="1"/>
<line x1="377.20" y1="384.43" x2="501.60" y2="384.43" stroke="#efefef" stroke-width="1"/>
<line x1="377.20" y1="363.27" x2="501.60" y2="363.27" stroke="#efefef" stroke-width="1"/>
<polygon points="377.20,419.36 377.28,419.36 378.59,416.21 379.90,412.80 381.87,411.89 383.84,410.97 385.80,409.66 387.77,408.34 389.74,407.95 391.70,406.64 393.67,405.72 395.25,407.03 396.95,404.41 398.26,403.36 399.57,405.98 400.89,408.34 402.20,402.05 403.51,404.02 405.48,402.31 407.44,400.48 409.15,401.39 410.98,402.05 412.69,400.48 414.00,404.67 415.31,401.39 417.02,400.08 418.59,398.11 420.16,397.46 421.87,398.11 423.84,396.54 425.80,394.84 427.51,395.23 429.08,396.80 430.66,396.15 432.36,395.49 434.07,394.18 435.38,393.13 436.69,395.23 437.00,395.15 438.97,395.67 440.93,394.75 442.90,392.79 444.87,391.74 446.84,392.79 448.80,392.13 450.77,391.21 452.48,390.43 454.05,391.48 456.02,391.21 457.98,390.82 459.56,389.90 461.26,394.10 462.57,392.52 463.89,390.82 465.59,390.43 467.43,389.90 469.13,384.92 470.84,384.26 472.41,384.66 473.98,382.03 475.30,380.98 476.34,384.92 477.92,385.57 479.62,384.26 480.93,382.56 481.85,388.85 482.90,398.03 483.95,392.13 484.87,379.67 486.18,375.08 487.49,380.98 488.41,379.67 489.46,375.74 490.77,373.77 492.74,372.85 494.70,373.11 496.28,372.85 497.98,371.15 499.69,368.52 501.60,368.52 501.60,469.10 377.20,469.10" fill="#FFC000"/>
<polygon points="377.20,447.54 377.28,447.54 378.20,439.67 379.25,436.39 381.87,434.43 385.80,433.11 387.11,432.21 391.05,431.56 394.98,430.90 398.92,430.25 402.85,429.33 406.79,428.54 410.72,428.02 414.66,427.62 418.59,427.23 422.52,426.97 426.46,426.70 430.39,426.31 434.33,425.66 437.00,424.90 442.25,424.11 447.49,423.59 452.74,422.80 457.98,422.28 463.23,421.49 468.48,420.57 473.72,419.26 478.97,417.95 484.21,416.25 489.46,414.41 494.70,412.70 497.33,411.00 499.69,409.69 501.60,409.69 501.60,469.10 377.20,469.10" fill="#FFFF66"/>
<polyline points="377.20,419.36 377.28,419.36 378.59,416.21 379.90,412.80 381.87,411.89 383.84,410.97 385.80,409.66 387.77,408.34 389.74,407.95 391.70,406.64 393.67,405.72 395.25,407.03 396.95,404.41 398.26,403.36 399.57,405.98 400.89,408.34 402.20,402.05 403.51,404.02 405.48,402.31 407.44,400.48 409.15,401.39 410.98,402.05 412.69,400.48 414.00,404.67 415.31,401.39 417.02,400.08 418.59,398.11 420.16,397.46 421.87,398.11 423.84,396.54 425.80,394.84 427.51,395.23 429.08,396.80 430.66,396.15 432.36,395.49 434.07,394.18 435.38,393.13 436.69,395.23 437.00,395.15 438.97,395.67 440.93,394.75 442.90,392.79 444.87,391.74 446.84,392.79 448.80,392.13 450.77,391.21 452.48,390.43 454.05,391.48 456.02,391.21 457.98,390.82 459.56,389.90 461.26,394.10 462.57,392.52 463.89,390.82 465.59,390.43 467.43,389.90 469.13,384.92 470.84,384.26 472.41,384.66 473.98,382.03 475.30,380.98 476.34,384.92 477.92,385.57 479.62,384.26 480.93,382.56 481.85,388.85 482.90,398.03 483.95,392.13 484.87,379.67 486.18,375.08 487.49,380.98 488.41,379.67 489.46,375.74 490.77,373.77 492.74,372.85 494.70,373.11 496.28,372.85 497.98,371.15 499.69,368.52 501.60,368.52" fill="none" stroke="#1c1c1c" stroke-width="1.35" stroke-linejoin="round"/>
<polyline points="377.20,447.54 377.28,447.54 378.20,439.67 379.25,436.39 381.87,434.43 385.80,433.11 387.11,432.21 391.05,431.56 394.98,430.90 398.92,430.25 402.85,429.33 406.79,428.54 410.72,428.02 414.66,427.62 418.59,427.23 422.52,426.97 426.46,426.70 430.39,426.31 434.33,425.66 437.00,424.90 442.25,424.11 447.49,423.59 452.74,422.80 457.98,422.28 463.23,421.49 468.48,420.57 473.72,419.26 478.97,417.95 484.21,416.25 489.46,414.41 494.70,412.70 497.33,411.00 499.69,409.69 501.60,409.69" fill="none" stroke="#1c1c1c" stroke-width="1.35" stroke-linejoin="round"/>
<polyline points="377.20,342.10 501.60,342.10 501.60,469.10" fill="none" stroke="#3a3a3a" stroke-width="1.5"/>
<line x1="377.20" y1="341.40" x2="377.20" y2="469.90" stroke="#151515" stroke-width="1.9"/>
<line x1="376.30" y1="469.10" x2="502.30" y2="469.10" stroke="#151515" stroke-width="1.7"/>
<line x1="373.90" y1="469.10" x2="377.20" y2="469.10" stroke="#111" stroke-width="1.25"/>
<text transform="translate(364.34,472.50) scale(0.955,1)" class="tk">0</text>
<line x1="373.90" y1="447.93" x2="377.20" y2="447.93" stroke="#111" stroke-width="1.25"/>
<text transform="translate(364.34,451.33) scale(0.955,1)" class="tk">2</text>
<line x1="373.90" y1="426.77" x2="377.20" y2="426.77" stroke="#111" stroke-width="1.25"/>
<text transform="translate(364.34,430.17) scale(0.955,1)" class="tk">4</text>
<line x1="373.90" y1="405.60" x2="377.20" y2="405.60" stroke="#111" stroke-width="1.25"/>
<text transform="translate(364.34,409.00) scale(0.955,1)" class="tk">6</text>
<line x1="373.90" y1="384.43" x2="377.20" y2="384.43" stroke="#111" stroke-width="1.25"/>
<text transform="translate(364.34,387.83) scale(0.955,1)" class="tk">8</text>
<line x1="373.90" y1="363.27" x2="377.20" y2="363.27" stroke="#111" stroke-width="1.25"/>
<path d="M362.49,359.58 L362.49,366.67 M362.79,359.78 L360.29,362.08" stroke="#262626" stroke-width="1.0" fill="none"/>
<text transform="translate(364.34,366.67) scale(0.955,1)" class="tk">0</text>
<line x1="373.90" y1="342.10" x2="377.20" y2="342.10" stroke="#111" stroke-width="1.25"/>
<path d="M362.49,338.41 L362.49,345.50 M362.79,338.61 L360.29,340.91" stroke="#262626" stroke-width="1.0" fill="none"/>
<text transform="translate(364.34,345.50) scale(0.955,1)" class="tk">2</text>
<path d="M378.28,476.21 L378.28,483.30 M378.58,476.41 L376.08,478.71" stroke="#262626" stroke-width="1.0" fill="none"/>
<text transform="translate(497.14,483.30) scale(0.955,1)" class="tk">7</text>
<text transform="translate(502.40,483.30) scale(0.955,1)" class="tk">5</text>
<text x="439.70" y="481.60" class="xl" text-anchor="middle" textLength="54.5" lengthAdjust="spacingAndGlyphs">Single Seeds</text>
<text transform="translate(355.30,436.10) rotate(-90)" class="yl" textLength="62.5" lengthAdjust="spacing">FAMES(Mol%)</text>
<text x="379.40" y="360.10" class="pt">Plot 4B</text>
<line x1="542.40" y1="448.10" x2="667.10" y2="448.10" stroke="#efefef" stroke-width="1"/>
<line x1="542.40" y1="426.90" x2="667.10" y2="426.90" stroke="#efefef" stroke-width="1"/>
<line x1="542.40" y1="405.70" x2="667.10" y2="405.70" stroke="#efefef" stroke-width="1"/>
<line x1="542.40" y1="384.50" x2="667.10" y2="384.50" stroke="#efefef" stroke-width="1"/>
<line x1="542.40" y1="363.30" x2="667.10" y2="363.30" stroke="#efefef" stroke-width="1"/>
<polygon points="542.40,421.07 542.62,421.07 543.93,419.75 545.25,418.44 546.56,412.54 547.87,411.49 549.84,409.66 551.80,408.61 553.77,407.56 555.48,408.61 557.05,407.95 559.02,406.64 560.98,407.30 562.95,408.61 564.92,406.64 566.89,405.72 568.85,404.67 570.82,403.62 572.13,405.33 573.84,402.31 575.41,401.39 577.38,401.39 579.34,400.48 581.31,400.74 583.28,400.08 584.59,403.36 585.90,401.39 587.87,399.69 589.84,399.16 591.80,398.77 593.77,400.08 595.74,401.00 597.70,402.70 598.75,399.69 599.67,395.23 601.64,394.84 603.00,395.00 604.57,395.66 606.28,397.62 607.59,395.00 609.30,393.03 610.61,394.34 611.92,399.59 612.84,408.51 613.75,398.28 615.07,390.41 616.11,393.69 617.43,395.66 619.39,395.00 621.36,393.03 622.93,387.13 624.25,389.75 625.95,391.07 627.66,391.46 628.97,394.34 629.89,398.93 630.80,394.34 632.11,390.67 634.21,389.10 636.05,389.36 637.75,386.48 639.46,384.90 641.03,387.79 642.34,383.20 643.39,380.57 644.70,382.80 646.28,383.85 648.25,383.20 650.21,382.54 651.79,381.89 653.49,382.54 655.20,379.66 656.77,378.61 658.34,379.66 660.05,381.23 661.75,377.95 663.33,376.25 664.38,373.36 665.30,368.11 665.95,363.52 667.10,363.52 667.10,469.30 542.40,469.30" fill="#FFC000"/>
<polygon points="542.40,440.74 542.62,440.74 543.93,439.43 546.56,437.46 549.18,435.89 551.80,434.57 555.74,433.79 559.67,433.26 563.61,432.87 567.54,432.48 571.48,431.95 575.41,431.56 579.34,431.16 583.28,430.90 587.21,430.25 591.15,429.33 595.08,428.93 599.02,428.28 603.00,426.21 608.25,425.43 613.49,424.90 618.74,424.11 623.98,423.59 629.23,423.20 634.48,422.54 639.72,421.89 644.97,420.97 650.21,419.66 655.46,418.61 659.39,417.95 662.67,415.98 664.64,413.36 665.69,409.43 667.10,409.43 667.10,469.30 542.40,469.30" fill="#FFFF66"/>
<polyline points="542.40,421.07 542.62,421.07 543.93,419.75 545.25,418.44 546.56,412.54 547.87,411.49 549.84,409.66 551.80,408.61 553.77,407.56 555.48,408.61 557.05,407.95 559.02,406.64 560.98,407.30 562.95,408.61 564.92,406.64 566.89,405.72 568.85,404.67 570.82,403.62 572.13,405.33 573.84,402.31 575.41,401.39 577.38,401.39 579.34,400.48 581.31,400.74 583.28,400.08 584.59,403.36 585.90,401.39 587.87,399.69 589.84,399.16 591.80,398.77 593.77,400.08 595.74,401.00 597.70,402.70 598.75,399.69 599.67,395.23 601.64,394.84 603.00,395.00 604.57,395.66 606.28,397.62 607.59,395.00 609.30,393.03 610.61,394.34 611.92,399.59 612.84,408.51 613.75,398.28 615.07,390.41 616.11,393.69 617.43,395.66 619.39,395.00 621.36,393.03 622.93,387.13 624.25,389.75 625.95,391.07 627.66,391.46 628.97,394.34 629.89,398.93 630.80,394.34 632.11,390.67 634.21,389.10 636.05,389.36 637.75,386.48 639.46,384.90 641.03,387.79 642.34,383.20 643.39,380.57 644.70,382.80 646.28,383.85 648.25,383.20 650.21,382.54 651.79,381.89 653.49,382.54 655.20,379.66 656.77,378.61 658.34,379.66 660.05,381.23 661.75,377.95 663.33,376.25 664.38,373.36 665.30,368.11 665.95,363.52 667.10,363.52" fill="none" stroke="#1c1c1c" stroke-width="1.35" stroke-linejoin="round"/>
<polyline points="542.40,440.74 542.62,440.74 543.93,439.43 546.56,437.46 549.18,435.89 551.80,434.57 555.74,433.79 559.67,433.26 563.61,432.87 567.54,432.48 571.48,431.95 575.41,431.56 579.34,431.16 583.28,430.90 587.21,430.25 591.15,429.33 595.08,428.93 599.02,428.28 603.00,426.21 608.25,425.43 613.49,424.90 618.74,424.11 623.98,423.59 629.23,423.20 634.48,422.54 639.72,421.89 644.97,420.97 650.21,419.66 655.46,418.61 659.39,417.95 662.67,415.98 664.64,413.36 665.69,409.43 667.10,409.43" fill="none" stroke="#1c1c1c" stroke-width="1.35" stroke-linejoin="round"/>
<polyline points="542.40,342.10 667.10,342.10 667.10,469.30" fill="none" stroke="#3a3a3a" stroke-width="1.5"/>
<line x1="542.40" y1="341.40" x2="542.40" y2="470.10" stroke="#151515" stroke-width="1.9"/>
<line x1="541.50" y1="469.30" x2="667.80" y2="469.30" stroke="#151515" stroke-width="1.7"/>
<line x1="539.10" y1="469.30" x2="542.40" y2="469.30" stroke="#111" stroke-width="1.25"/>
<text transform="translate(529.54,472.70) scale(0.955,1)" class="tk">0</text>
<line x1="539.10" y1="448.10" x2="542.40" y2="448.10" stroke="#111" stroke-width="1.25"/>
<text transform="translate(529.54,451.50) scale(0.955,1)" class="tk">2</text>
<line x1="539.10" y1="426.90" x2="542.40" y2="426.90" stroke="#111" stroke-width="1.25"/>
<text transform="translate(529.54,430.30) scale(0.955,1)" class="tk">4</text>
<line x1="539.10" y1="405.70" x2="542.40" y2="405.70" stroke="#111" stroke-width="1.25"/>
<text transform="translate(529.54,409.10) scale(0.955,1)" class="tk">6</text>
<line x1="539.10" y1="384.50" x2="542.40" y2="384.50" stroke="#111" stroke-width="1.25"/>
<text transform="translate(529.54,387.90) scale(0.955,1)" class="tk">8</text>
<line x1="539.10" y1="363.30" x2="542.40" y2="363.30" stroke="#111" stroke-width="1.25"/>
<path d="M527.69,359.61 L527.69,366.70 M527.99,359.81 L525.49,362.11" stroke="#262626" stroke-width="1.0" fill="none"/>
<text transform="translate(529.54,366.70) scale(0.955,1)" class="tk">0</text>
<line x1="539.10" y1="342.10" x2="542.40" y2="342.10" stroke="#111" stroke-width="1.25"/>
<path d="M527.69,338.41 L527.69,345.50 M527.99,338.61 L525.49,340.91" stroke="#262626" stroke-width="1.0" fill="none"/>
<text transform="translate(529.54,345.50) scale(0.955,1)" class="tk">2</text>
<path d="M543.48,476.41 L543.48,483.50 M543.78,476.61 L541.28,478.91" stroke="#262626" stroke-width="1.0" fill="none"/>
<text transform="translate(662.64,483.50) scale(0.955,1)" class="tk">7</text>
<text transform="translate(667.90,483.50) scale(0.955,1)" class="tk">5</text>
<text x="605.05" y="481.80" class="xl" text-anchor="middle" textLength="54.5" lengthAdjust="spacingAndGlyphs">Single Seeds</text>
<text transform="translate(521.10,436.90) rotate(-90)" class="yl" textLength="62.5" lengthAdjust="spacing">FAMES(Mol%)</text>
<text x="546.10" y="358.10" class="pt">Plot 4C</text>
</svg>
</body></html>
